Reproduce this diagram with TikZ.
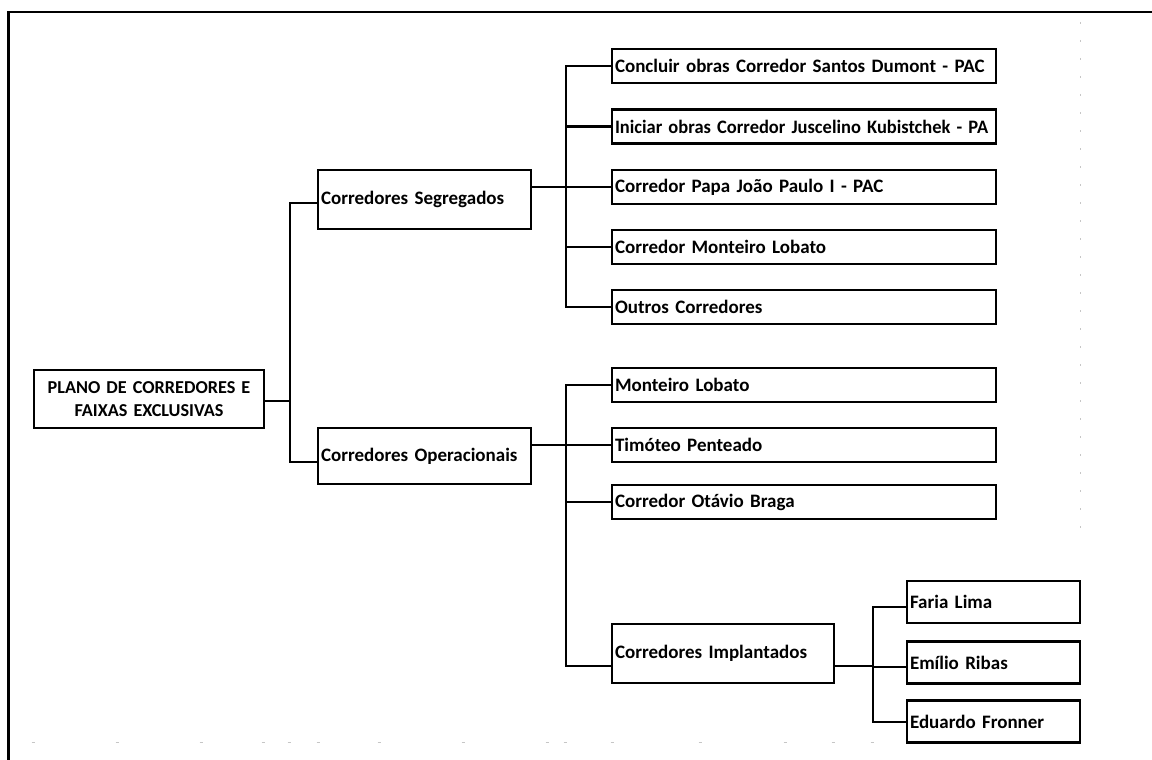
\documentclass[tikz,border=0pt]{standalone}
\usepackage{fontspec}
\setmainfont{Carlito}
\begin{document}
\begin{tikzpicture}[x=1pt,y=-1pt,
  base/.style={draw, line width=2.5pt, rectangle, inner xsep=3pt, inner ysep=0pt,
    font=\fontsize{19}{22.5}\selectfont\bfseries, align=left},
  rootbox/.style={base, minimum width=230, text width=224, minimum height=58, align=center,
    font=\fontsize{18.2}{22.5}\selectfont\bfseries},
  midbox/.style={base, minimum width=213, text width=207, minimum height=59},
  implbox/.style={base, minimum width=222, text width=216, minimum height=59},
  leafbox/.style={base, minimum width=384, text width=378, minimum height=34},
  subbox/.style={base, minimum width=173, text width=167, minimum height=42},
  link/.style={line width=2.3pt},
  pagebreak/.style={gray!45, line width=0.8pt}]

% page area
\fill[white] (0,0) rectangle (1152,760);
\useasboundingbox (0,0) rectangle (1152,760);

% sheet frame (top and left edges)
\draw[line width=2.5pt] (8.5,760) -- (8.5,12) -- (1152,12);

% page-break marks
\draw[pagebreak, dash pattern=on 2pt off 16pt] (1080,22) -- (1080,530);
\foreach \px in {33,117,201,263,289,318,379,463,547,565,612,700,785,833,872}
  \draw[pagebreak] (\px-1.5,742) -- (\px+1.5,742);

% root
\node[rootbox] (root) at (149,399) {PLANO DE CORREDORES E\\FAIXAS EXCLUSIVAS};

% second level
\node[midbox] (seg) at (424.5,199.5) {Corredores Segregados};
\node[midbox, minimum height=56] (ope) at (424.5,456) {Corredores Operacionais};

% segregated corridors
\node[leafbox] (s1) at (804,66)  {Concluir obras Corredor Santos Dumont - PAC};
\node[leafbox] (s2) at (804,126.5) {\scalebox{0.972}[1]{Iniciar obras Corredor Juscelino Kubistchek - PA}};
\node[leafbox] (s3) at (804,187) {Corredor Papa João Paulo I - PAC};
\node[leafbox] (s4) at (804,247) {Corredor Monteiro Lobato};
\node[leafbox] (s5) at (804,307) {Outros Corredores};

% operational corridors
\node[leafbox] (o1) at (804,385) {Monteiro Lobato};
\node[leafbox] (o2) at (804,445) {Timóteo Penteado};
\node[leafbox] (o3) at (804,502) {Corredor Otávio Braga};
\node[implbox] (imp) at (723,653.5) {Corredores Implantados};

% implemented corridors
\node[subbox] (i1) at (993.5,602)   {Faria Lima};
\node[subbox] (i2) at (993.5,662.5) {Emílio Ribas};
\node[subbox] (i3) at (993.5,721.5) {Eduardo Fronner};

% connectors
\draw[link] ([yshift=-2pt]root.east) -- ++(25,0) |- ([yshift=-3.5pt]seg.west);
\draw[link] ([yshift=-2pt]root.east) -- ++(25,0) |- ([yshift=-6pt]ope.west);

\foreach \c in {s1,s2,s3,s4,s5}
  \draw[link] ([yshift=12.5pt]seg.east) -- ++(34,0) |- (\c.west);

\foreach \c in {o1,o2,o3}
  \draw[link] ([yshift=11pt]ope.east) -- ++(34,0) |- (\c.west);
\draw[link] ([yshift=11pt]ope.east) -- ++(34,0) |- ([yshift=-12.5pt]imp.west);

\draw[link] ([yshift=-12.5pt]imp.east) -- ++(38,0) |- ([yshift=-5pt]i1.west);
\draw[link] ([yshift=-12.5pt]imp.east) -- ++(38,0) |- ([yshift=-4.5pt]i2.west);
\draw[link] ([yshift=-12.5pt]imp.east) -- ++(38,0) |- ([yshift=-0.5pt]i3.west);
\end{tikzpicture}
\end{document}
